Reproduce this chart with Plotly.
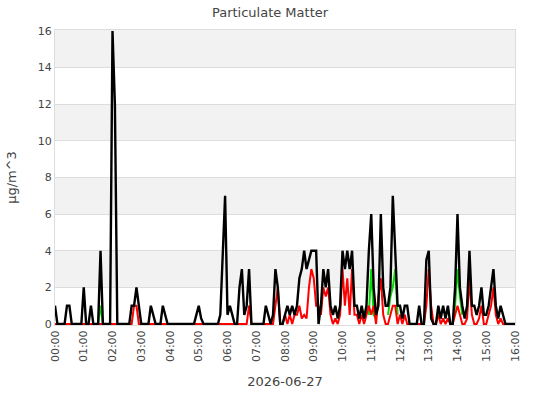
import pandas as pd
import plotly.graph_objects as go

# 5-minute samples, 2026-06-27 00:00 .. 16:00
start = "2026-06-27 00:00"
end = "2026-06-27 16:00"
step = "5min"

# black series (PM10), one row per hour (12 samples each) + final point
pm10 = [
    1, 0, 0, 0, 0, 1, 1, 0, 0, 0, 0, 0,
    2, 0, 0, 1, 0, 0, 0, 4, 0, 0, 0, 0,
    16, 12, 0, 0, 0, 0, 0, 0, 1, 1, 2, 1,
    0, 0, 0, 0, 1, 0.5, 0, 0, 0, 1, 0.5, 0,
    0, 0, 0, 0, 0, 0, 0, 0, 0, 0, 0, 0.5,
    1, 0.3, 0, 0, 0, 0, 0, 0, 0, 0.5, 3.5, 7,
    0.5, 1, 0.5, 0, 0, 2, 3, 0.5, 1, 3, 0, 0,
    0, 0, 0, 0, 1, 0.5, 0, 0.5, 3, 2, 0, 0,
    0.5, 1, 0.5, 1, 0.5, 1, 2.5, 3, 4, 3, 3.5, 4,
    4, 4, 0, 1, 3, 2, 3, 1, 0.5, 1, 0.3, 1,
    4, 3, 4, 3, 4, 1, 1, 0.3, 1, 0.3, 1, 4,
    6, 2, 0.5, 1, 6, 2, 1, 1, 2, 7, 4, 1,
    1, 0.3, 1, 1, 0, 0, 0, 0, 1, 0, 0, 3.5,
    4, 0.3, 0, 0, 1, 0.3, 1, 0.3, 1, 0, 0, 2,
    6, 2, 1, 0.3, 1, 4, 1, 1, 0.5, 1, 2, 0.5,
    0.5, 1, 2, 3, 1, 0.3, 1, 0.5, 0, 0, 0, 0,
    0,
]

# red series (PM2.5)
pm25 = [
    0, 0, 0, 0, 0, 0, 0, 0, 0, 0, 0, 0,
    0, 0, 0, 0, 0, 0, 0, 0, 0, 0, 0, 0,
    0, 0, 0, 0, 0, 0, 0, 0, 0, 1, 1, 0,
    0, 0, 0, 0, 0, 0, 0, 0, 0, 0, 0, 0,
    0, 0, 0, 0, 0, 0, 0, 0, 0, 0, 0, 0,
    0, 0, 0, 0, 0, 0, 0, 0, 0, 0, 0, 0,
    0, 0, 0, 0, 0, 0, 0, 0, 0, 1, 0, 0,
    0, 0, 0, 0, 0, 0, 0, 0, 1, 2, 0, 0,
    0.5, 0, 0.5, 0, 0.5, 0.5, 1, 0.3, 0.5, 0.3, 2, 3,
    2.5, 1, 1, 0.5, 2, 1.5, 2, 0.5, 0, 0.3, 0, 0.5,
    3, 1, 2.5, 0.5, 3, 0.5, 0.5, 0, 0.5, 0, 0.5, 1,
    0.5, 1, 0, 1.5, 2.5, 0.5, 0, 0, 0.5, 1, 1, 0,
    0.5, 0, 0.5, 0, 0, 0, 0, 0, 0, 0, 0, 1,
    3, 1, 0, 0, 0.5, 0, 0.3, 0, 0.3, 0, 0, 0.5,
    1, 0.5, 0, 0, 0.3, 2.5, 0.5, 0, 0, 0.3, 1, 0,
    0, 0.5, 1, 2, 0.5, 0, 0.3, 0, 0, 0, 0, 0,
    0,
]

# green series (PM1); None = no reading shown
N = None
pm1 = [
    N, N, N, N, N, N, N, N, N, N, N, N,
    N, N, N, N, N, N, 0, 1, 0, N, N, N,
    N, N, N, N, N, N, N, N, N, N, N, N,
    N, N, N, N, N, N, N, N, N, N, N, N,
    N, N, N, N, N, N, N, N, N, N, N, N,
    N, N, N, N, N, N, N, N, N, N, N, N,
    N, N, N, N, N, N, N, N, N, N, N, N,
    N, N, N, N, N, N, N, N, N, N, N, N,
    N, N, N, N, N, N, N, N, N, N, N, N,
    N, N, N, N, N, N, N, N, N, N, N, N,
    N, N, N, N, N, N, N, N, N, 0.3, 1, 0.5,
    3, 0.5, 0.3, N, N, N, N, 0.5, 1.5, 2, 3, 0.5,
    N, N, N, N, N, N, N, N, N, N, N, N,
    N, N, N, N, N, N, N, N, N, N, 0, 1,
    3, 1.5, 0.5, N, N, N, N, N, N, N, N, N,
    N, N, N, N, N, N, N, N, N, N, N, N,
    N,
]

times = pd.date_range(start, end, freq=step)

fig = go.Figure()
fig.add_trace(go.Scatter(x=times, y=pm1, mode="lines", line=dict(color="#00dd00", width=2),
                         connectgaps=False, name="PM1"))
fig.add_trace(go.Scatter(x=times, y=pm25, mode="lines", line=dict(color="#ff0000", width=2), name="PM2.5"))
fig.add_trace(go.Scatter(x=times, y=pm10, mode="lines", line=dict(color="#000000", width=2.4), name="PM10"))

# alternating bands
band_edges = [2, 6, 10, 14]
for b in band_edges:
    fig.add_shape(type="rect", xref="paper", yref="y", x0=0, x1=1, y0=b, y1=(b + 2.06 if b == 14 else b + 2),
                  fillcolor="#f2f2f2", line=dict(width=0), layer="below")

fig.update_layout(
    width=540, height=400,
    margin=dict(l=55, r=25, t=30, b=75),
    paper_bgcolor="white", plot_bgcolor="white",
    showlegend=False,
    font=dict(family="DejaVu Sans", size=11, color="#444"),
    title=dict(text="Particulate Matter", x=0.5, xanchor="center", y=0.97, yanchor="middle",
               font=dict(size=13, color="#444")),
)
fig.update_xaxes(
    type="date", range=[start, end], dtick=3600000, tickformat="%H:%M", tickangle=-90,
    showgrid=False, showline=True, mirror=True, linecolor="#ddd", linewidth=1,
    zeroline=False, title=dict(text="2026-06-27"),
)
fig.update_yaxes(
    range=[-0.0546, 16.0546], tickvals=[0, 2, 4, 6, 8, 10, 12, 14, 16], gridcolor="#ddd",
    showline=True, mirror=True, linecolor="#ddd",
    zeroline=False, title=dict(text="µg/m^3", standoff=18),
)

fig.write_html("out.html")
